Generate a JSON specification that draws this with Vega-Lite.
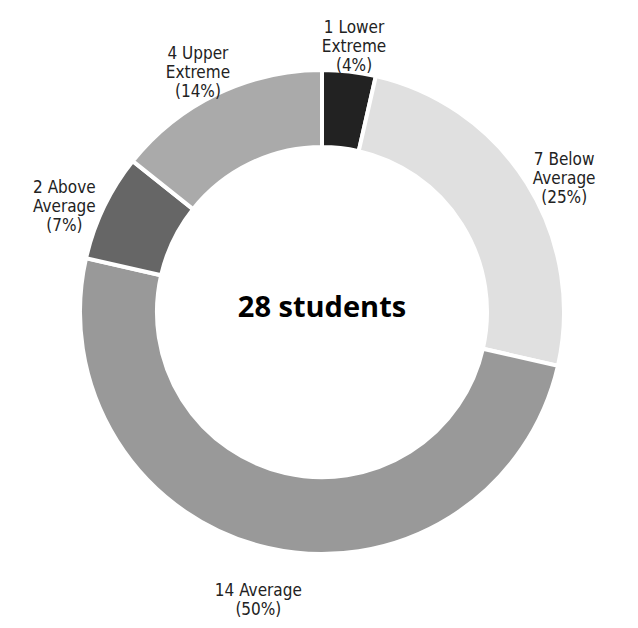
{
  "$schema": "https://vega.github.io/schema/vega-lite/v6.json",
  "width": 632,
  "height": 624,
  "autosize": "none",
  "padding": {"left": 6, "top": 0, "right": 0, "bottom": 4},
  "background": "white",
  "config": {"view": {"stroke": null}},
  "layer": [
    {
      "data": {"values": [
        {"category": "Lower Extreme", "count": 1, "order": 1, "label": "1 Lower\nExtreme\n(4%)"},
        {"category": "Below Average", "count": 7, "order": 2, "label": "7 Below\nAverage\n(25%)"},
        {"category": "Average", "count": 14, "order": 3, "label": "14 Average\n(50%)"},
        {"category": "Above Average", "count": 2, "order": 4, "label": "2 Above\nAverage\n(7%)"},
        {"category": "Upper Extreme", "count": 4, "order": 5, "label": "4 Upper\nExtreme\n(14%)"}
      ]},
      "encoding": {
        "theta": {"field": "count", "type": "quantitative", "stack": true},
        "order": {"field": "order", "type": "quantitative"}
      },
      "layer": [
        {
          "mark": {"type": "arc", "radius": 242, "innerRadius": 165, "stroke": "white", "strokeWidth": 4},
          "encoding": {
            "color": {
              "field": "category",
              "type": "nominal",
              "scale": {
                "domain": ["Lower Extreme", "Below Average", "Average", "Above Average", "Upper Extreme"],
                "range": ["#222222", "#e0e0e0", "#999999", "#666666", "#aaaaaa"]
              },
              "legend": null
            }
          }
        },
        {
          "mark": {"type": "text", "radius": 286, "font": "Liberation Sans Narrow, DejaVu Sans Condensed, Open Sans", "fontSize": 17, "lineHeight": 19, "lineBreak": "\n", "align": "center", "baseline": "middle", "color": "#222222"},
          "encoding": {
            "text": {"field": "label", "type": "nominal"}
          }
        }
      ]
    },
    {
      "data": {"values": [{"title": "28 students"}]},
      "mark": {"type": "text", "font": "Open Sans", "fontSize": 29, "fontWeight": "bold", "align": "center", "baseline": "middle", "color": "#000000", "dy": -4},
      "encoding": {
        "text": {"field": "title", "type": "nominal"}
      }
    }
  ]
}
